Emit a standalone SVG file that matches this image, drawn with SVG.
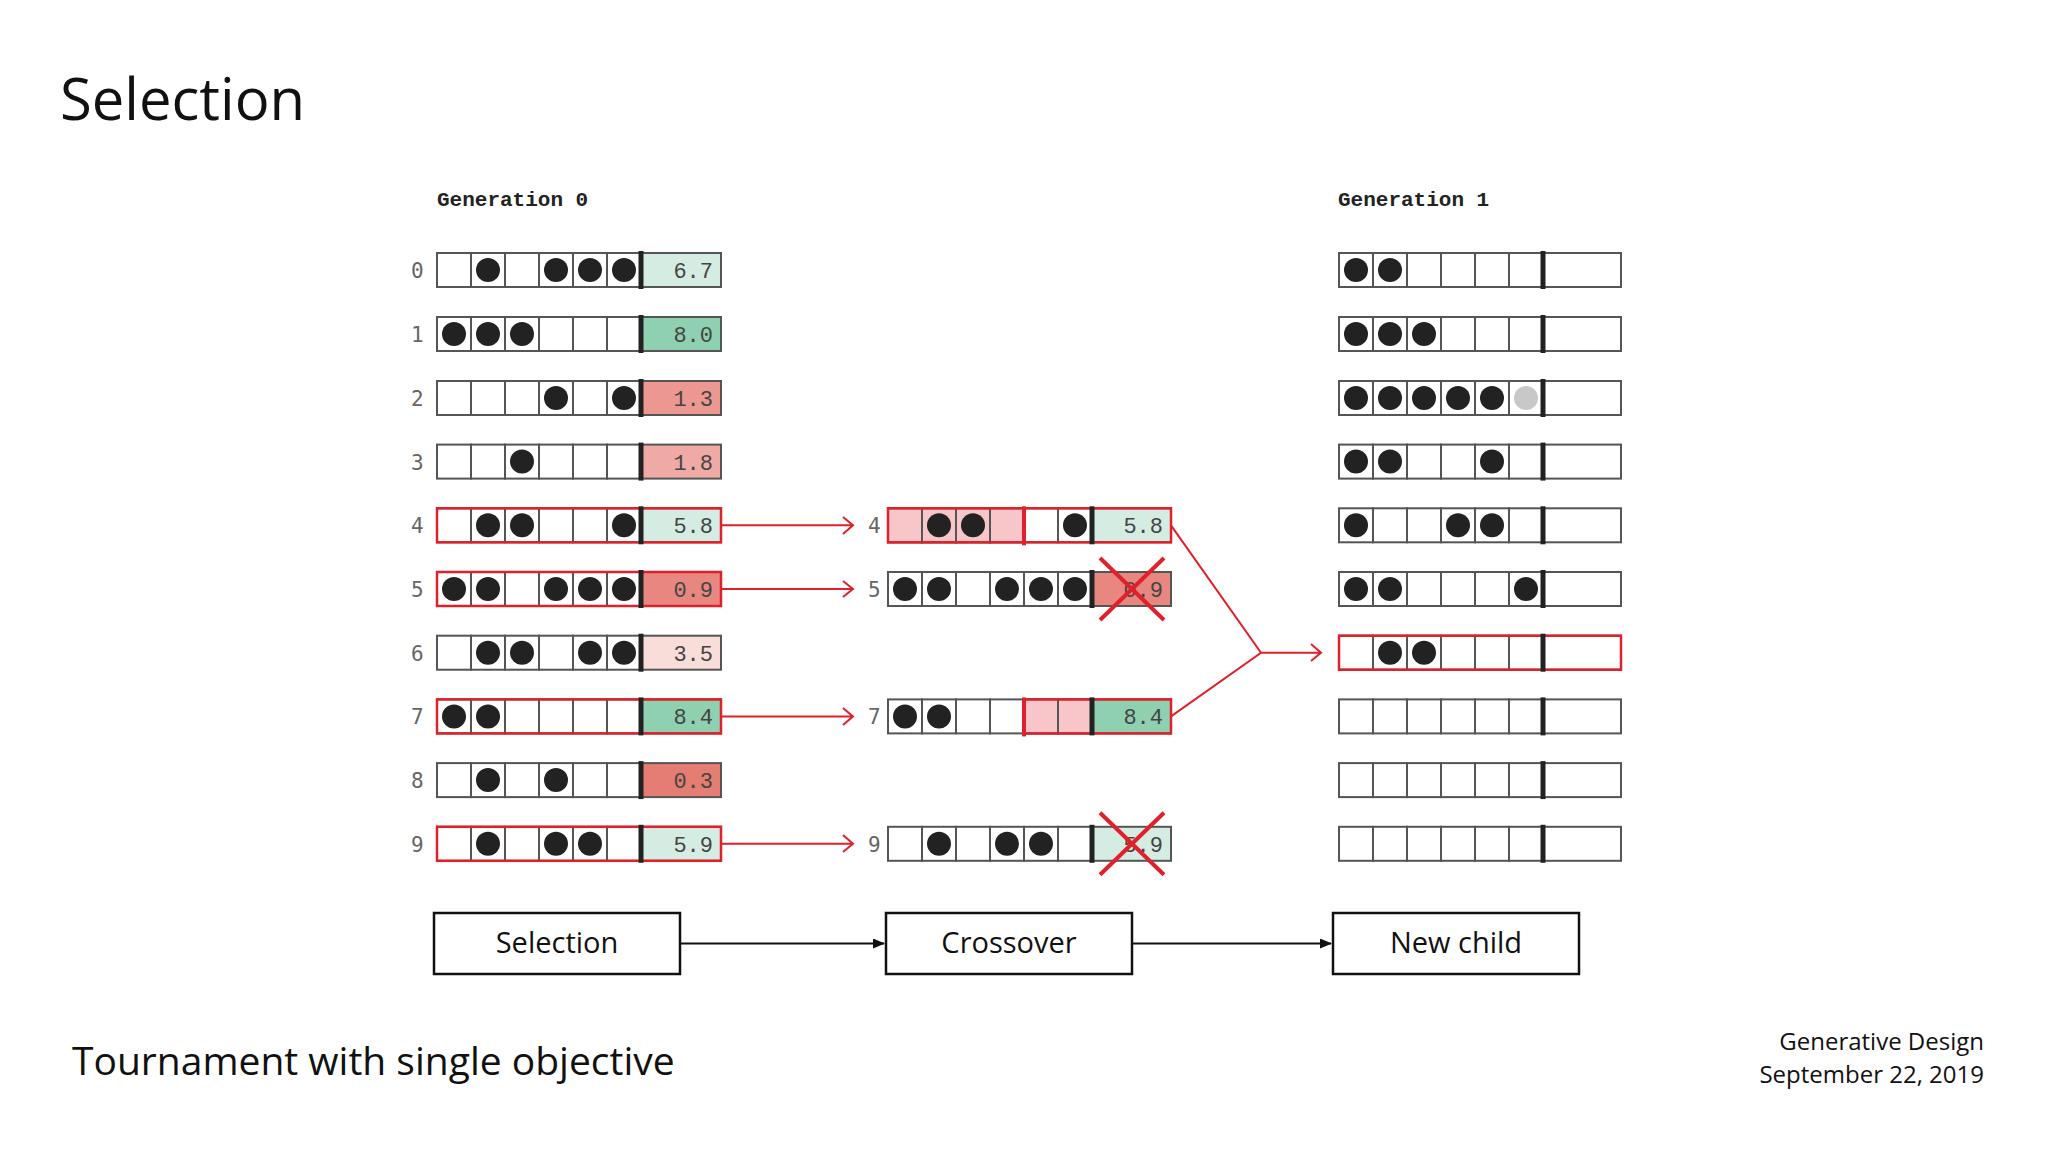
<svg xmlns="http://www.w3.org/2000/svg" width="2048" height="1152" viewBox="0 0 2048 1152">
<style>
.c{fill:#fff;stroke:#555;stroke-width:2}
.rc{fill:none;stroke:#e0202a;stroke-width:2.5}
.p{fill:#f8c6c8;stroke:#555;stroke-width:2}
.bar{stroke:#222;stroke-width:5}
.rbar{stroke:#e0202a;stroke-width:4}
.d{fill:#222}
.g{fill:#c8c8c8}
.idx{font-family:"DejaVu Sans Mono","Liberation Mono",monospace;font-size:21px;fill:#666}
.sc{font-family:"Liberation Mono",monospace;font-size:22px;fill:#444;text-anchor:end}
.hd{font-family:"Liberation Mono",monospace;font-size:21px;font-weight:bold;fill:#222}
.x{stroke:#e0202a;stroke-width:4}
.ra{stroke:#e0202a;stroke-width:2;fill:none}
.bx{fill:#fff;stroke:#111;stroke-width:2.5}
.bt{font-family:"Open Sans",sans-serif;font-size:29px;fill:#111;text-anchor:middle}
</style>
<defs>
<marker id="ba" markerWidth="12" markerHeight="10" refX="11" refY="5" orient="auto" markerUnits="userSpaceOnUse"><path d="M0,0 L12,5 L0,10 Z" fill="#111"/></marker>
<g id="cells">
<rect class="c" x="0" y="0" width="34" height="34"/><rect class="c" x="34" y="0" width="34" height="34"/><rect class="c" x="68" y="0" width="34" height="34"/><rect class="c" x="102" y="0" width="34" height="34"/><rect class="c" x="136" y="0" width="34" height="34"/><rect class="c" x="170" y="0" width="34" height="34"/>
</g>
</defs>
<rect width="2048" height="1152" fill="#fff"/>
<text x="60" y="120" font-family="Open Sans,sans-serif" font-size="58" fill="#111">Selection</text>
<text x="437" y="206" class="hd">Generation 0</text>
<text x="1338" y="206" class="hd">Generation 1</text>

<!-- Generation 0 -->
<g id="g0-0" transform="translate(437,253)"><text class="idx" x="-26" y="25">0</text><use href="#cells"/><rect x="204" y="0" width="80" height="34" fill="#d5ece3" stroke="#555" stroke-width="2"/><line class="bar" x1="204" y1="-2" x2="204" y2="36"/><circle class="d" cx="51" cy="17" r="12"/><circle class="d" cx="119" cy="17" r="12"/><circle class="d" cx="153" cy="17" r="12"/><circle class="d" cx="187" cy="17" r="12"/><text class="sc" x="276" y="25">6.7</text></g>
<g id="g0-1" transform="translate(437,317)"><text class="idx" x="-26" y="25">1</text><use href="#cells"/><rect x="204" y="0" width="80" height="34" fill="#8fd0b0" stroke="#555" stroke-width="2"/><line class="bar" x1="204" y1="-2" x2="204" y2="36"/><circle class="d" cx="17" cy="17" r="12"/><circle class="d" cx="51" cy="17" r="12"/><circle class="d" cx="85" cy="17" r="12"/><text class="sc" x="276" y="25">8.0</text></g>
<g id="g0-2" transform="translate(437,381)"><text class="idx" x="-26" y="25">2</text><use href="#cells"/><rect x="204" y="0" width="80" height="34" fill="#ec9890" stroke="#555" stroke-width="2"/><line class="bar" x1="204" y1="-2" x2="204" y2="36"/><circle class="d" cx="119" cy="17" r="12"/><circle class="d" cx="187" cy="17" r="12"/><text class="sc" x="276" y="25">1.3</text></g>
<g id="g0-3" transform="translate(437,444.6)"><text class="idx" x="-26" y="25">3</text><use href="#cells"/><rect x="204" y="0" width="80" height="34" fill="#f0aaa6" stroke="#555" stroke-width="2"/><line class="bar" x1="204" y1="-2" x2="204" y2="36"/><circle class="d" cx="85" cy="17" r="12"/><text class="sc" x="276" y="25">1.8</text></g>
<g id="g0-4" transform="translate(437,508.3)"><text class="idx" x="-26" y="25">4</text><use href="#cells"/><rect x="204" y="0" width="80" height="34" fill="#d5ece3" stroke="#555" stroke-width="2"/><rect class="rc" x="0" y="0" width="284" height="34"/><line class="bar" x1="204" y1="-2" x2="204" y2="36"/><circle class="d" cx="51" cy="17" r="12"/><circle class="d" cx="85" cy="17" r="12"/><circle class="d" cx="187" cy="17" r="12"/><text class="sc" x="276" y="25">5.8</text></g>
<g id="g0-5" transform="translate(437,572)"><text class="idx" x="-26" y="25">5</text><use href="#cells"/><rect x="204" y="0" width="80" height="34" fill="#e8877f" stroke="#555" stroke-width="2"/><rect class="rc" x="0" y="0" width="284" height="34"/><line class="bar" x1="204" y1="-2" x2="204" y2="36"/><circle class="d" cx="17" cy="17" r="12"/><circle class="d" cx="51" cy="17" r="12"/><circle class="d" cx="119" cy="17" r="12"/><circle class="d" cx="153" cy="17" r="12"/><circle class="d" cx="187" cy="17" r="12"/><text class="sc" x="276" y="25">0.9</text></g>
<g id="g0-6" transform="translate(437,635.7)"><text class="idx" x="-26" y="25">6</text><use href="#cells"/><rect x="204" y="0" width="80" height="34" fill="#f8ddd9" stroke="#555" stroke-width="2"/><line class="bar" x1="204" y1="-2" x2="204" y2="36"/><circle class="d" cx="51" cy="17" r="12"/><circle class="d" cx="85" cy="17" r="12"/><circle class="d" cx="153" cy="17" r="12"/><circle class="d" cx="187" cy="17" r="12"/><text class="sc" x="276" y="25">3.5</text></g>
<g id="g0-7" transform="translate(437,699.4)"><text class="idx" x="-26" y="25">7</text><use href="#cells"/><rect x="204" y="0" width="80" height="34" fill="#8fd0b0" stroke="#555" stroke-width="2"/><rect class="rc" x="0" y="0" width="284" height="34"/><line class="bar" x1="204" y1="-2" x2="204" y2="36"/><circle class="d" cx="17" cy="17" r="12"/><circle class="d" cx="51" cy="17" r="12"/><text class="sc" x="276" y="25">8.4</text></g>
<g id="g0-8" transform="translate(437,763.1)"><text class="idx" x="-26" y="25">8</text><use href="#cells"/><rect x="204" y="0" width="80" height="34" fill="#e57d72" stroke="#555" stroke-width="2"/><line class="bar" x1="204" y1="-2" x2="204" y2="36"/><circle class="d" cx="51" cy="17" r="12"/><circle class="d" cx="119" cy="17" r="12"/><text class="sc" x="276" y="25">0.3</text></g>
<g id="g0-9" transform="translate(437,826.8)"><text class="idx" x="-26" y="25">9</text><use href="#cells"/><rect x="204" y="0" width="80" height="34" fill="#d5ece3" stroke="#555" stroke-width="2"/><rect class="rc" x="0" y="0" width="284" height="34"/><line class="bar" x1="204" y1="-2" x2="204" y2="36"/><circle class="d" cx="51" cy="17" r="12"/><circle class="d" cx="119" cy="17" r="12"/><circle class="d" cx="153" cy="17" r="12"/><text class="sc" x="276" y="25">5.9</text></g>

<!-- Crossover column -->
<g id="m-4" transform="translate(888,508.3)"><text class="idx" x="-20" y="25">4</text><use href="#cells"/><rect class="p" x="0" y="0" width="34" height="34"/><rect class="p" x="34" y="0" width="34" height="34"/><rect class="p" x="68" y="0" width="34" height="34"/><rect class="p" x="102" y="0" width="34" height="34"/><rect x="204" y="0" width="79" height="34" fill="#d5ece3" stroke="#555" stroke-width="2"/><rect class="rc" x="0" y="0" width="283" height="34"/><line class="rbar" x1="136" y1="-2" x2="136" y2="37"/><line class="bar" x1="204" y1="-2" x2="204" y2="36"/><circle class="d" cx="51" cy="17" r="12"/><circle class="d" cx="85" cy="17" r="12"/><circle class="d" cx="187" cy="17" r="12"/><text class="sc" x="275" y="25">5.8</text></g>
<g id="m-5" transform="translate(888,572)"><text class="idx" x="-20" y="25">5</text><use href="#cells"/><rect x="204" y="0" width="79" height="34" fill="#e8877f" stroke="#555" stroke-width="2"/><line class="bar" x1="204" y1="-2" x2="204" y2="36"/><circle class="d" cx="17" cy="17" r="12"/><circle class="d" cx="51" cy="17" r="12"/><circle class="d" cx="119" cy="17" r="12"/><circle class="d" cx="153" cy="17" r="12"/><circle class="d" cx="187" cy="17" r="12"/><text class="sc" x="275" y="25">0.9</text><line class="x" x1="212" y1="-14" x2="276" y2="48"/><line class="x" x1="276" y1="-14" x2="212" y2="48"/></g>
<g id="m-7" transform="translate(888,699.4)"><text class="idx" x="-20" y="25">7</text><use href="#cells"/><rect class="p" x="136" y="0" width="34" height="34"/><rect class="p" x="170" y="0" width="34" height="34"/><rect x="204" y="0" width="79" height="34" fill="#8fd0b0" stroke="#555" stroke-width="2"/><rect class="rc" x="136" y="0" width="147" height="34"/><line class="rbar" x1="136" y1="-2" x2="136" y2="37"/><line class="bar" x1="204" y1="-2" x2="204" y2="36"/><circle class="d" cx="17" cy="17" r="12"/><circle class="d" cx="51" cy="17" r="12"/><text class="sc" x="275" y="25">8.4</text></g>
<g id="m-9" transform="translate(888,826.8)"><text class="idx" x="-20" y="25">9</text><use href="#cells"/><rect x="204" y="0" width="79" height="34" fill="#d5ece3" stroke="#555" stroke-width="2"/><line class="bar" x1="204" y1="-2" x2="204" y2="36"/><circle class="d" cx="51" cy="17" r="12"/><circle class="d" cx="119" cy="17" r="12"/><circle class="d" cx="153" cy="17" r="12"/><text class="sc" x="275" y="25">5.9</text><line class="x" x1="212" y1="-14" x2="276" y2="48"/><line class="x" x1="276" y1="-14" x2="212" y2="48"/></g>

<!-- Generation 1 -->
<g id="g1-0" transform="translate(1339,253)"><use href="#cells"/><rect class="c" x="204" y="0" width="78" height="34"/><line class="bar" x1="204" y1="-2" x2="204" y2="36"/><circle class="d" cx="17" cy="17" r="12"/><circle class="d" cx="51" cy="17" r="12"/></g>
<g id="g1-1" transform="translate(1339,317)"><use href="#cells"/><rect class="c" x="204" y="0" width="78" height="34"/><line class="bar" x1="204" y1="-2" x2="204" y2="36"/><circle class="d" cx="17" cy="17" r="12"/><circle class="d" cx="51" cy="17" r="12"/><circle class="d" cx="85" cy="17" r="12"/></g>
<g id="g1-2" transform="translate(1339,381)"><use href="#cells"/><rect class="c" x="204" y="0" width="78" height="34"/><line class="bar" x1="204" y1="-2" x2="204" y2="36"/><circle class="d" cx="17" cy="17" r="12"/><circle class="d" cx="51" cy="17" r="12"/><circle class="d" cx="85" cy="17" r="12"/><circle class="d" cx="119" cy="17" r="12"/><circle class="d" cx="153" cy="17" r="12"/><circle class="g" cx="187" cy="17" r="12"/></g>
<g id="g1-3" transform="translate(1339,444.6)"><use href="#cells"/><rect class="c" x="204" y="0" width="78" height="34"/><line class="bar" x1="204" y1="-2" x2="204" y2="36"/><circle class="d" cx="17" cy="17" r="12"/><circle class="d" cx="51" cy="17" r="12"/><circle class="d" cx="153" cy="17" r="12"/></g>
<g id="g1-4" transform="translate(1339,508.3)"><use href="#cells"/><rect class="c" x="204" y="0" width="78" height="34"/><line class="bar" x1="204" y1="-2" x2="204" y2="36"/><circle class="d" cx="17" cy="17" r="12"/><circle class="d" cx="119" cy="17" r="12"/><circle class="d" cx="153" cy="17" r="12"/></g>
<g id="g1-5" transform="translate(1339,572)"><use href="#cells"/><rect class="c" x="204" y="0" width="78" height="34"/><line class="bar" x1="204" y1="-2" x2="204" y2="36"/><circle class="d" cx="17" cy="17" r="12"/><circle class="d" cx="51" cy="17" r="12"/><circle class="d" cx="187" cy="17" r="12"/></g>
<g id="g1-6" transform="translate(1339,635.7)"><use href="#cells"/><rect class="c" x="204" y="0" width="78" height="34"/><rect class="rc" x="0" y="0" width="282" height="34"/><line class="bar" x1="204" y1="-2" x2="204" y2="36"/><circle class="d" cx="51" cy="17" r="12"/><circle class="d" cx="85" cy="17" r="12"/></g>
<g id="g1-7" transform="translate(1339,699.4)"><use href="#cells"/><rect class="c" x="204" y="0" width="78" height="34"/><line class="bar" x1="204" y1="-2" x2="204" y2="36"/></g>
<g id="g1-8" transform="translate(1339,763.1)"><use href="#cells"/><rect class="c" x="204" y="0" width="78" height="34"/><line class="bar" x1="204" y1="-2" x2="204" y2="36"/></g>
<g id="g1-9" transform="translate(1339,826.8)"><use href="#cells"/><rect class="c" x="204" y="0" width="78" height="34"/><line class="bar" x1="204" y1="-2" x2="204" y2="36"/></g>

<!-- Process boxes -->
<g id="box-selection"><rect class="bx" x="434" y="913" width="246" height="61"/><text class="bt" x="557" y="953">Selection</text></g>
<g id="box-crossover"><rect class="bx" x="886" y="913" width="246" height="61"/><text class="bt" x="1009" y="953">Crossover</text></g>
<g id="box-newchild"><rect class="bx" x="1333" y="913" width="246" height="61"/><text class="bt" x="1456" y="953">New child</text></g>

<g id="connectors">
<path class="ra" d="M721,525.3 H853 M843,517 L853,525.3 L843,534"/>
<path class="ra" d="M721,589 H853 M843,581 L853,589 L843,597"/>
<path class="ra" d="M721,716.4 H853 M843,708 L853,716.4 L843,725"/>
<path class="ra" d="M721,843.8 H853 M843,835 L853,843.8 L843,852"/>
<path class="ra" d="M1171,525.3 L1261,652.7 L1171,716.4 M1261,652.7 H1321 M1311,644 L1321,652.7 L1311,661"/>
<line x1="680" y1="943.5" x2="884" y2="943.5" stroke="#111" stroke-width="2" marker-end="url(#ba)"/>
<line x1="1132" y1="943.5" x2="1331" y2="943.5" stroke="#111" stroke-width="2" marker-end="url(#ba)"/>
</g>

<text x="72" y="1075" font-family="Open Sans,sans-serif" font-size="39" fill="#111">Tournament with single objective</text>
<text x="1984" y="1050" font-family="Open Sans,sans-serif" font-size="24" fill="#111" text-anchor="end">Generative Design</text>
<text x="1984" y="1083" font-family="Open Sans,sans-serif" font-size="24" fill="#111" text-anchor="end">September 22, 2019</text>
</svg>
